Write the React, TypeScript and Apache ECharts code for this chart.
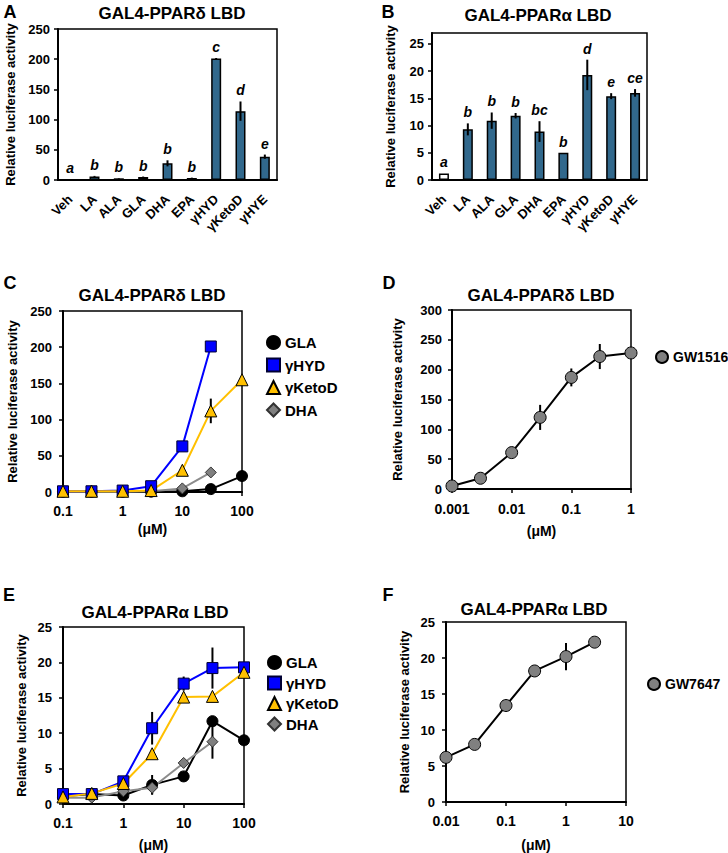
import React, { useEffect, useRef } from 'react';
import * as echarts from 'echarts';

const FONT = '"Liberation Sans", Arial, sans-serif';

// ---- Panel A / B : bar charts ----
const barCategories = ['Veh', 'LA', 'ALA', 'GLA', 'DHA', 'EPA', 'γHYD', 'γKetoD', 'γHYE'];
const deltaBarValues = [1, 6, 2.8, 5, 27.6, 3.3, 201, 114, 38.6];
const deltaBarErrors = [0.3, 0.8, 0.5, 0.7, 5, 0.6, 1, 16, 3.5];
const deltaBarLetters = ['a', 'b', 'b', 'b', 'b', 'b', 'c', 'd', 'e'];

const alphaBarValues = [1.2, 9.3, 10.9, 11.8, 8.9, 5.0, 19.3, 15.4, 16.0];
const alphaBarErrors = [0, 1.1, 1.5, 0.5, 1.9, 0, 2.8, 0.55, 0.7];
const alphaBarLetters = ['a', 'b', 'b', 'b', 'bc', 'b', 'd', 'e', 'ce'];
const alphaTicks = [0, 5, 10, 15, 20, 25];

// ---- Panel C : PPARδ dose response ----
const concC = [0.1, 0.3, 1, 3, 10, 30, 100];
const cGLA = [0.5, 0.5, 0.5, 0.5, 1, 4, 22];
const cGLAErr = [0, 0, 0, 0, 0.5, 1, 2];
const cHYD = [1, 1, 2, 8, 63, 201];
const cHYDErr = [0, 0, 0.5, 1, 3, 2];
const cKeto = [1, 1, 1, 2, 30, 112, 155];
const cKetoErr = [0, 0, 0, 0.5, 2, 17, 2];
const cDHA = [0.5, 0.5, 0.5, 1, 5, 27];
const cDHAErr = [0, 0, 0, 0, 1, 2];

// ---- Panel D : GW1516 ----
const concD = [0.001, 0.003, 0.01, 0.03, 0.1, 0.3, 1];
const dGW1516 = [5, 18, 61, 120, 187, 222, 228];
const dGW1516Err = [1, 2, 4, 21, 15, 21, 3];

// ---- Panel E : PPARα dose response ----
const concE = [0.1, 0.3, 1, 3, 10, 30, 100];
const eGLA = [1.1, 1.4, 1.2, 2.7, 3.9, 11.7, 9.0];
const eGLAErr = [0, 0.3, 0.2, 1.4, 0.3, 0.5, 0.5];
const eHYD = [1.4, 1.4, 3.2, 10.7, 17.0, 19.2, 19.3];
const eHYDErr = [0.2, 0.2, 0.4, 2.3, 1.0, 2.9, 0.3];
const eKeto = [1.0, 1.5, 2.9, 7.1, 15.1, 15.2, 18.6];
const eKetoErr = [0.1, 0.2, 0.3, 0.5, 0.4, 0.4, 0.3];
const eDHA = [0.9, 0.9, 1.8, 2.3, 5.8, 8.8];
const eDHAErr = [0.1, 0.2, 0.3, 0.9, 0.3, 2.4];

// ---- Panel F : GW7647 ----
const concF = [0.01, 0.03, 0.1, 0.3, 1, 3];
const fGW7647 = [6.2, 8.0, 13.4, 18.2, 20.2, 22.2];
const fGW7647Err = [0.2, 0.2, 0.3, 0.3, 1.9, 0.7];

const BAR_COLOR = '#31688c';
const axisText = { fontFamily: FONT, fontWeight: 'bold' as const, fontSize: 13, color: '#000' };
const axisLine = { show: true, lineStyle: { color: '#000', width: 2 } };
const fmtLog = (v: number) => String(parseFloat(Number(v).toPrecision(4)));

const SYM = {
  gla: { symbol: 'circle', size: 11, fill: '#000000', border: '#000000', line: '#000000' },
  hyd: { symbol: 'rect', size: 11, fill: '#0000ff', border: '#000033', line: '#0000ff' },
  keto: { symbol: 'triangle', size: 12, fill: '#ffc000', border: '#000000', line: '#ffc000' },
  dha: { symbol: 'diamond', size: 11, fill: '#808080', border: '#333333', line: '#8c8c8c' },
  gw: { symbol: 'circle', size: 12, fill: '#808080', border: '#000000', line: '#000000' },
};

function lineSeries(name: string, idx: number, conc: number[], vals: number[], s: any) {
  return {
    type: 'line',
    name,
    xAxisIndex: idx,
    yAxisIndex: idx,
    data: vals.map((v, i) => [conc[i], v]),
    symbol: s.symbol,
    symbolSize: s.size,
    showSymbol: true,
    itemStyle: { color: s.fill, borderColor: s.border, borderWidth: 1 },
    lineStyle: { color: s.line, width: 2 },
    emphasis: { disabled: true },
    z: 3,
  };
}

function errorSeries(idx: number, pts: number[][], z: number, width: number) {
  return {
    type: 'custom',
    xAxisIndex: idx,
    yAxisIndex: idx,
    z,
    silent: true,
    encode: { x: 0, y: 1 },
    data: pts,
    renderItem: (_p: any, api: any) => {
      const x = api.value(0);
      const y = api.value(1);
      const e = api.value(2);
      const a = api.coord([x, y - e]);
      const b = api.coord([x, y + e]);
      return {
        type: 'line',
        shape: { x1: a[0], y1: a[1], x2: b[0], y2: b[1] },
        style: { stroke: '#000', lineWidth: width },
      };
    },
  };
}

function pts(conc: number[], vals: number[], errs: number[]) {
  return vals.map((v, i) => [conc[i], v, errs[i]]);
}

function letterSeries(idx: number, vals: number[], errs: number[], letters: string[]) {
  return {
    type: 'custom',
    xAxisIndex: idx,
    yAxisIndex: idx,
    z: 6,
    silent: true,
    encode: { x: 0, y: 1 },
    data: vals.map((v, i) => [i, v + errs[i]]),
    renderItem: (params: any, api: any) => {
      const p = api.coord([api.value(0), api.value(1)]);
      return {
        type: 'text',
        x: p[0],
        y: p[1] - 4,
        style: {
          text: letters[params.dataIndex],
          font: `italic bold 14px ${FONT}`,
          fill: '#000',
          align: 'center',
          verticalAlign: 'bottom',
          textAlign: 'center',
          textVerticalAlign: 'bottom',
        },
      };
    },
  };
}

function valueY(idx: number, max: number, interval: number, nameGap: number, margin: number, extra: any = {}) {
  return {
    type: 'value',
    gridIndex: idx,
    min: 0,
    max,
    interval,
    name: 'Relative luciferase activity',
    nameLocation: 'middle',
    nameGap,
    nameTextStyle: { ...axisText },
    axisLine,
    axisTick: { show: true, length: 4, lineStyle: { color: '#000', width: 1.5 }, ...(extra.tick || {}) },
    axisLabel: { ...axisText, margin, ...(extra.label || {}) },
    splitLine: { show: false },
  };
}

function logX(idx: number, min: number, max: number, nameGap: number, margin: number) {
  return {
    type: 'log',
    logBase: 10,
    gridIndex: idx,
    min,
    max,
    name: '(μM)',
    nameLocation: 'middle',
    nameGap,
    nameTextStyle: { ...axisText, fontSize: 14 },
    axisLine,
    axisTick: { show: true, length: 4, lineStyle: { color: '#000', width: 1.5 } },
    axisLabel: { ...axisText, fontSize: 14, margin, formatter: fmtLog },
    splitLine: { show: false },
    minorTick: { show: false },
  };
}

function catX(idx: number) {
  return {
    type: 'category',
    gridIndex: idx,
    data: barCategories,
    axisLine,
    axisTick: { show: false },
    axisLabel: { ...axisText, rotate: 45, interval: 0, margin: 17 },
    splitLine: { show: false },
  };
}

function txt(x: number, y: number, text: string, size: number) {
  return {
    type: 'text',
    x,
    y,
    style: {
      text,
      font: `bold ${size}px ${FONT}`,
      fill: '#000',
      align: 'center',
      verticalAlign: 'middle',
      textAlign: 'center',
      textVerticalAlign: 'middle',
    },
  };
}

function legend(left: number, top: number, gap: number, size: number, fontSize: number, items: any[]) {
  return {
    left,
    top,
    orient: 'vertical',
    itemWidth: size,
    itemHeight: size,
    itemGap: gap,
    selectedMode: false,
    textStyle: { fontFamily: FONT, fontWeight: 'bold', fontSize, color: '#000' },
    data: items,
  };
}

const TITLE_D = 'GAL4-PPARδ LBD';
const TITLE_A = 'GAL4-PPARα LBD';

export default function App() {
  const ref = useRef<HTMLDivElement>(null);
  useEffect(() => {
    if (!ref.current) return;
    const chart = echarts.init(ref.current, undefined, { renderer: 'svg' });
    const gridBase = { show: true, borderColor: '#000', borderWidth: 1.5, backgroundColor: 'transparent', containLabel: false };
    const option: any = {
      animation: false,
      backgroundColor: '#fff',
      textStyle: { fontFamily: FONT },
      grid: [
        { ...gridBase, left: 58, top: 29, width: 219, height: 151 },
        { ...gridBase, left: 432, top: 33, width: 215, height: 147 },
        { ...gridBase, left: 63, top: 311, width: 179, height: 181 },
        { ...gridBase, left: 452, top: 310, width: 179, height: 179 },
        { ...gridBase, left: 63, top: 627, width: 181, height: 178 },
        { ...gridBase, left: 446, top: 622, width: 180, height: 180 },
      ],
      xAxis: [
        catX(0),
        catX(1),
        logX(2, 0.1, 100, 30, 12),
        logX(3, 0.001, 1, 35, 13),
        logX(4, 0.1, 100, 34, 12),
        logX(5, 0.01, 10, 36, 12),
      ],
      yAxis: [
        valueY(0, 250, 50, 41, 8),
        valueY(1, 27, 5, 35, 8, {
          label: { customValues: alphaTicks, formatter: (v: number) => (v % 5 === 0 ? String(v) : '') },
          tick: { customValues: alphaTicks },
        }),
        valueY(2, 250, 50, 44, 11),
        valueY(3, 300, 50, 48, 10),
        valueY(4, 25, 5, 35, 11),
        valueY(5, 25, 5, 35, 11),
      ],
      legend: [
        legend(261, 330, 7.5, 13, 15, [
          { name: 'GLA', icon: 'circle' },
          { name: 'γHYD', icon: 'rect' },
          { name: 'γKetoD', icon: 'triangle' },
          { name: 'DHA', icon: 'diamond' },
        ]),
        legend(650, 345, 5, 12, 14, [{ name: 'GW1516', icon: 'circle' }]),
        legend(262, 650, 5.5, 13, 15, [
          { name: 'GLA', icon: 'circle' },
          { name: 'γHYD', icon: 'rect' },
          { name: 'γKetoD', icon: 'triangle' },
          { name: 'DHA', icon: 'diamond' },
        ]),
        legend(642, 672, 5, 12, 14, [{ name: 'GW7647', icon: 'circle' }]),
      ],
      graphic: [
        txt(10, 12, 'A', 18),
        txt(388, 12, 'B', 18),
        txt(10, 283, 'C', 18),
        txt(389, 283, 'D', 18),
        txt(9, 595, 'E', 18),
        txt(388, 595, 'F', 18),
        txt(172, 13, TITLE_D, 17),
        txt(538, 15, TITLE_A, 17),
        txt(152, 295, TITLE_D, 17),
        txt(541, 295, TITLE_D, 17),
        txt(155, 612, TITLE_A, 17),
        txt(534, 609, TITLE_A, 17),
      ],
      series: [
        // A
        {
          type: 'bar',
          xAxisIndex: 0,
          yAxisIndex: 0,
          barWidth: 10,
          data: deltaBarValues,
          itemStyle: { color: BAR_COLOR, borderColor: '#000', borderWidth: 1.5 },
          emphasis: { disabled: true },
        },
        errorSeries(0, deltaBarValues.map((v, i) => [i, v, deltaBarErrors[i]]), 5, 2),
        letterSeries(0, deltaBarValues, deltaBarErrors, deltaBarLetters),
        // B
        {
          type: 'bar',
          xAxisIndex: 1,
          yAxisIndex: 1,
          barWidth: 10,
          data: alphaBarValues.map((v, i) => (i === 0 ? { value: v, itemStyle: { color: '#fff' } } : v)),
          itemStyle: { color: BAR_COLOR, borderColor: '#000', borderWidth: 1.5 },
          emphasis: { disabled: true },
        },
        errorSeries(1, alphaBarValues.map((v, i) => [i, v, alphaBarErrors[i]]), 5, 2),
        letterSeries(1, alphaBarValues, alphaBarErrors, alphaBarLetters),
        // C
        errorSeries(2, [
          ...pts(concC, cGLA, cGLAErr),
          ...pts(concC, cHYD, cHYDErr),
          ...pts(concC, cKeto, cKetoErr),
          ...pts(concC, cDHA, cDHAErr),
        ], 1, 2),
        lineSeries('GLA', 2, concC, cGLA, SYM.gla),
        lineSeries('DHA', 2, concC, cDHA, SYM.dha),
        lineSeries('γHYD', 2, concC, cHYD, SYM.hyd),
        lineSeries('γKetoD', 2, concC, cKeto, SYM.keto),
        // D
        errorSeries(3, pts(concD, dGW1516, dGW1516Err), 1, 2),
        lineSeries('GW1516', 3, concD, dGW1516, SYM.gw),
        // E
        errorSeries(4, [
          ...pts(concE, eGLA, eGLAErr),
          ...pts(concE, eHYD, eHYDErr),
          ...pts(concE, eKeto, eKetoErr),
          ...pts(concE, eDHA, eDHAErr),
        ], 1, 2),
        lineSeries('GLA', 4, concE, eGLA, SYM.gla),
        lineSeries('DHA', 4, concE, eDHA, SYM.dha),
        lineSeries('γHYD', 4, concE, eHYD, SYM.hyd),
        lineSeries('γKetoD', 4, concE, eKeto, SYM.keto),
        // F
        errorSeries(5, pts(concF, fGW7647, fGW7647Err), 1, 2),
        lineSeries('GW7647', 5, concF, fGW7647, SYM.gw),
      ],
    };
    chart.setOption(option);
    return () => chart.dispose();
  }, []);
  return (
    <div
      ref={ref}
      style={{ position: 'absolute', left: 0, top: 0, width: 728, height: 853, background: '#fff' }}
    />
  );
}
